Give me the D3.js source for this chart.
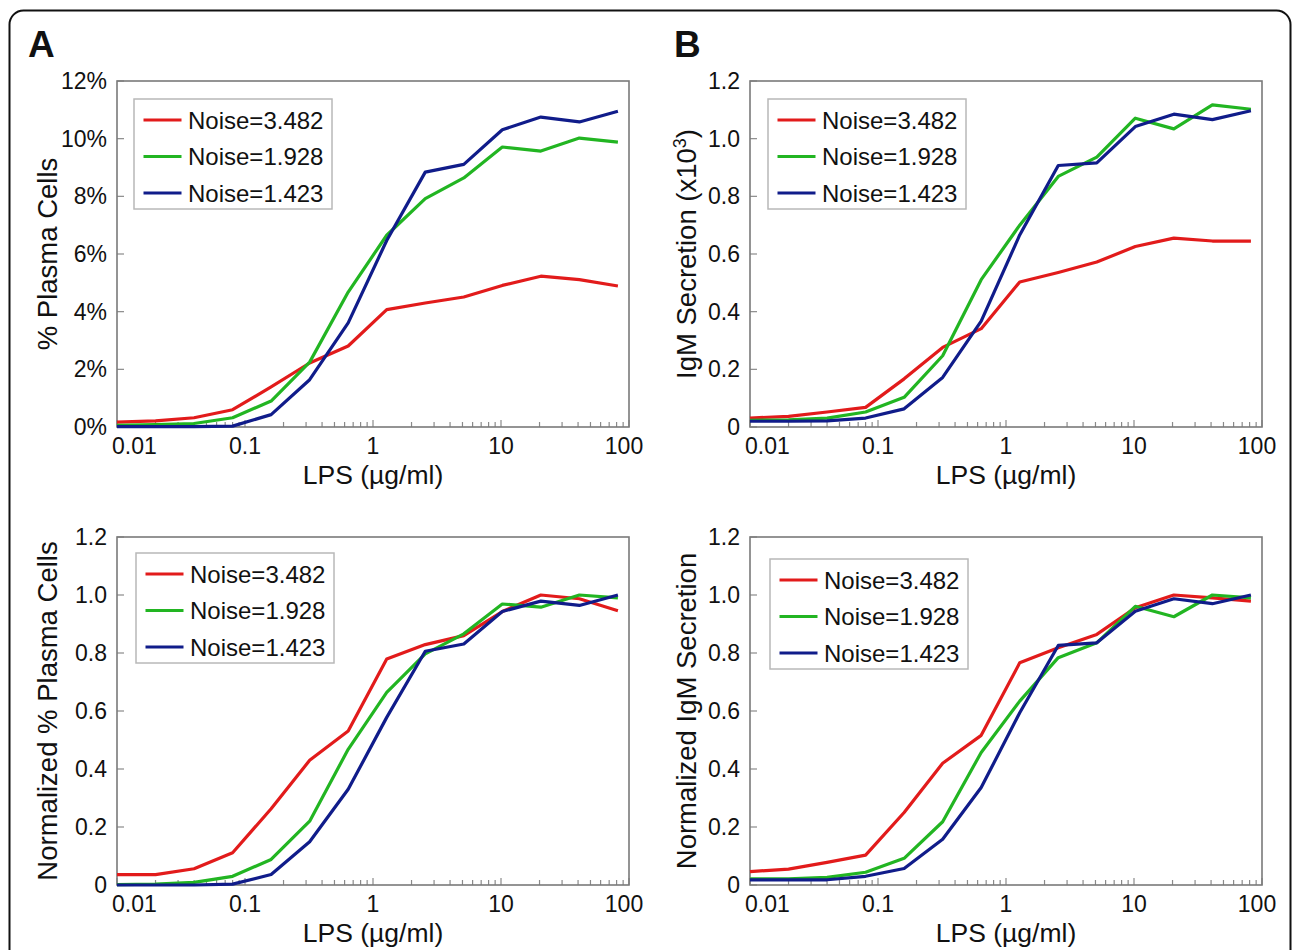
<!DOCTYPE html>
<html>
<head>
<meta charset="utf-8">
<title>LPS dose response - noise levels</title>
<script src="https://d3js.org/d3.v7.min.js"></script>
<style>
  body { margin: 0; background: #fff; }
  svg text { font-family: "Liberation Sans", Arial, sans-serif; fill: #111; }
  .frame { fill: none; stroke: #7a7a7a; stroke-width: 1.6px; }
  .tick line { stroke: #8a8a8a; stroke-width: 1.2px; }
  .legend-box { fill: #fff; stroke: #b8b8b8; stroke-width: 1.5px; }
  .series { fill: none; stroke-width: 3.2px; stroke-linejoin: round; }
</style>
</head>
<body>
<svg width="1293" height="950"></svg>
<script>
// LPS concentrations (ug/ml), two-fold dilution series
const lps = [0.01, 0.02, 0.04, 0.08, 0.16, 0.32, 0.64, 1.28, 2.56, 5.12, 10.24, 20.48, 40.96, 81.92];

const noiseLabels = ["Noise=3.482", "Noise=1.928", "Noise=1.423"];
const noiseColors = ["#e21b1b", "#22b522", "#101c8a"];

// A: % plasma cells
const pctRed   = [0.17, 0.21, 0.32, 0.60, 1.39, 2.22, 2.81, 4.07, 4.30, 4.51, 4.91, 5.23, 5.11, 4.89];
const pctGreen = [0.06, 0.08, 0.12, 0.32, 0.90, 2.25, 4.68, 6.65, 7.92, 8.64, 9.71, 9.57, 10.02, 9.88];
const pctBlue  = [0.01, 0.01, 0.01, 0.03, 0.43, 1.64, 3.61, 6.47, 8.84, 9.11, 10.31, 10.75, 10.58, 10.95];

// B: IgM secretion (x10^3)
const igmRed   = [0.031, 0.037, 0.052, 0.068, 0.167, 0.276, 0.341, 0.503, 0.536, 0.572, 0.626, 0.655, 0.645, 0.645];
const igmGreen = [0.023, 0.025, 0.031, 0.052, 0.103, 0.247, 0.511, 0.700, 0.869, 0.936, 1.071, 1.034, 1.117, 1.102];
const igmBlue  = [0.020, 0.020, 0.021, 0.031, 0.063, 0.172, 0.367, 0.666, 0.907, 0.916, 1.042, 1.085, 1.066, 1.097];

// normalized % plasma cells
const normPctRed   = [0.036, 0.036, 0.056, 0.111, 0.263, 0.430, 0.531, 0.779, 0.829, 0.860, 0.943, 1.000, 0.987, 0.946];
const normPctGreen = [0.001, 0.003, 0.009, 0.030, 0.088, 0.220, 0.468, 0.664, 0.797, 0.866, 0.969, 0.958, 1.000, 0.990];
const normPctBlue  = [0.000, 0.000, 0.000, 0.003, 0.036, 0.149, 0.330, 0.578, 0.806, 0.831, 0.943, 0.979, 0.964, 1.000];

// normalized IgM secretion
const normIgmRed   = [0.046, 0.055, 0.078, 0.103, 0.250, 0.420, 0.516, 0.766, 0.818, 0.864, 0.956, 1.000, 0.990, 0.979];
const normIgmGreen = [0.021, 0.021, 0.026, 0.044, 0.092, 0.218, 0.457, 0.634, 0.784, 0.835, 0.961, 0.925, 1.000, 0.990];
const normIgmBlue  = [0.018, 0.018, 0.018, 0.030, 0.057, 0.158, 0.336, 0.594, 0.826, 0.835, 0.944, 0.987, 0.970, 1.000];

// axis ticks
const xTicks = [0.01, 0.1, 1, 10, 100];
const xTickLabels = ["0.01", "0.1", "1", "10", "100"];
const yTicksPct = [0, 2, 4, 6, 8, 10, 12];
const yTicksUnit = [0, 0.2, 0.4, 0.6, 0.8, 1.0, 1.2];

const svg = d3.select("svg");

// outer rounded border
svg.append("rect")
    .attr("x", 9.5).attr("y", 10.5)
    .attr("width", 1281).attr("height", 980)
    .attr("rx", 14)
    .attr("fill", "none").attr("stroke", "#111").attr("stroke-width", 2);

svg.append("text").attr("x", 28).attr("y", 57)
    .style("font-size", "37px").style("font-weight", "bold").text("A");
svg.append("text").attr("x", 674).attr("y", 57)
    .style("font-size", "37px").style("font-weight", "bold").text("B");

const unitFmt = d => d === 0 ? "0" : d.toFixed(1);

const panels = [
  { x0: 117, x1: 629, y0: 81, y1: 427, ymax: 12, yTicks: yTicksPct, yFmt: d => d + "%",
    title: "% Plasma Cells", titleX: 57, series: [pctRed, pctGreen, pctBlue], leg: [17, 18] },
  { x0: 750, x1: 1262, y0: 81, y1: 427, ymax: 1.2, yTicks: yTicksUnit, yFmt: unitFmt,
    title: "IgM Secretion (x10", sup: "3", titleEnd: ")", titleX: 696, series: [igmRed, igmGreen, igmBlue], leg: [18, 18] },
  { x0: 117, x1: 629, y0: 537, y1: 885, ymax: 1.2, yTicks: yTicksUnit, yFmt: unitFmt,
    title: "Normalized % Plasma Cells", titleX: 57, series: [normPctRed, normPctGreen, normPctBlue], leg: [19, 16] },
  { x0: 750, x1: 1262, y0: 537, y1: 885, ymax: 1.2, yTicks: yTicksUnit, yFmt: unitFmt,
    title: "Normalized IgM Secretion", titleX: 696, series: [normIgmRed, normIgmGreen, normIgmBlue], leg: [20, 22] }
];

panels.forEach(p => {
  const g = svg.append("g");
  const x = d3.scaleLog().domain([0.01, 100]).range([p.x0, p.x1]);
  const y = d3.scaleLinear().domain([0, p.ymax]).range([p.y1, p.y0]);

  // minor + major ticks along bottom, pointing inward
  const minor = [];
  [0.01, 0.1, 1, 10].forEach(dec => { for (let k = 2; k <= 9; k++) minor.push(dec * k); });
  g.append("g").attr("class", "tick").selectAll("line")
    .data(minor).join("line")
      .attr("x1", d => x(d)).attr("x2", d => x(d))
      .attr("y1", p.y1).attr("y2", p.y1 - 5);
  g.append("g").attr("class", "tick").selectAll("line")
    .data(xTicks).join("line")
      .attr("x1", d => x(d)).attr("x2", d => x(d))
      .attr("y1", p.y1).attr("y2", p.y1 - 7);
  // y ticks inward
  g.append("g").attr("class", "tick").selectAll("line")
    .data(p.yTicks).join("line")
      .attr("x1", p.x0).attr("x2", p.x0 + 7)
      .attr("y1", d => y(d)).attr("y2", d => y(d));

  g.append("rect").attr("class", "frame")
    .attr("x", p.x0).attr("y", p.y0)
    .attr("width", p.x1 - p.x0).attr("height", p.y1 - p.y0);

  // x tick labels; end ones nudged like the original
  g.selectAll(".xl").data(xTicks).join("text")
    .attr("x", (d, i) => i === 0 ? x(d) - 5 : (i === xTicks.length - 1 ? x(d) - 5 : x(d)))
    .attr("y", p.y1 + 27)
    .attr("text-anchor", (d, i) => i === 0 ? "start" : "middle")
    .style("font-size", "23px")
    .text((d, i) => xTickLabels[i]);

  g.selectAll(".yl").data(p.yTicks).join("text")
    .attr("x", p.x0 - 10)
    .attr("y", d => y(d) + 8)
    .attr("text-anchor", "end")
    .style("font-size", "23px")
    .text(p.yFmt);

  // axis titles
  g.append("text")
    .attr("x", (p.x0 + p.x1) / 2).attr("y", p.y1 + 57)
    .attr("text-anchor", "middle")
    .style("font-size", "26.5px")
    .text("LPS (\u00b5g/ml)");

  const yt = g.append("text")
    .attr("transform", `translate(${p.titleX},${(p.y0 + p.y1) / 2}) rotate(-90)`)
    .attr("text-anchor", "middle")
    .style("font-size", "27.5px");
  yt.append("tspan").text(p.title);
  if (p.sup) {
    yt.append("tspan").attr("dy", -10).style("font-size", "18px").text(p.sup);
    yt.append("tspan").attr("dy", 10).text(p.titleEnd);
  }

  // data lines
  const line = d3.line().x((d, i) => x(lps[i])).y(d => y(d));
  g.selectAll(".series").data(p.series).join("path")
    .attr("class", "series")
    .attr("stroke", (d, i) => noiseColors[i])
    .attr("d", line);

  // legend
  const lx = p.x0 + p.leg[0], ly = p.y0 + p.leg[1];
  const lg = g.append("g").attr("transform", `translate(${lx},${ly})`);
  lg.append("rect").attr("class", "legend-box")
    .attr("width", 198).attr("height", 110);
  noiseLabels.forEach((lab, i) => {
    const ry = 21 + i * 36.5;
    lg.append("line")
      .attr("x1", 9.5).attr("x2", 47.5).attr("y1", ry).attr("y2", ry)
      .attr("stroke", noiseColors[i]).attr("stroke-width", 3);
    lg.append("text")
      .attr("x", 54).attr("y", ry + 8.5)
      .style("font-size", "24px")
      .text(lab);
  });
});
</script>
</body>
</html>
